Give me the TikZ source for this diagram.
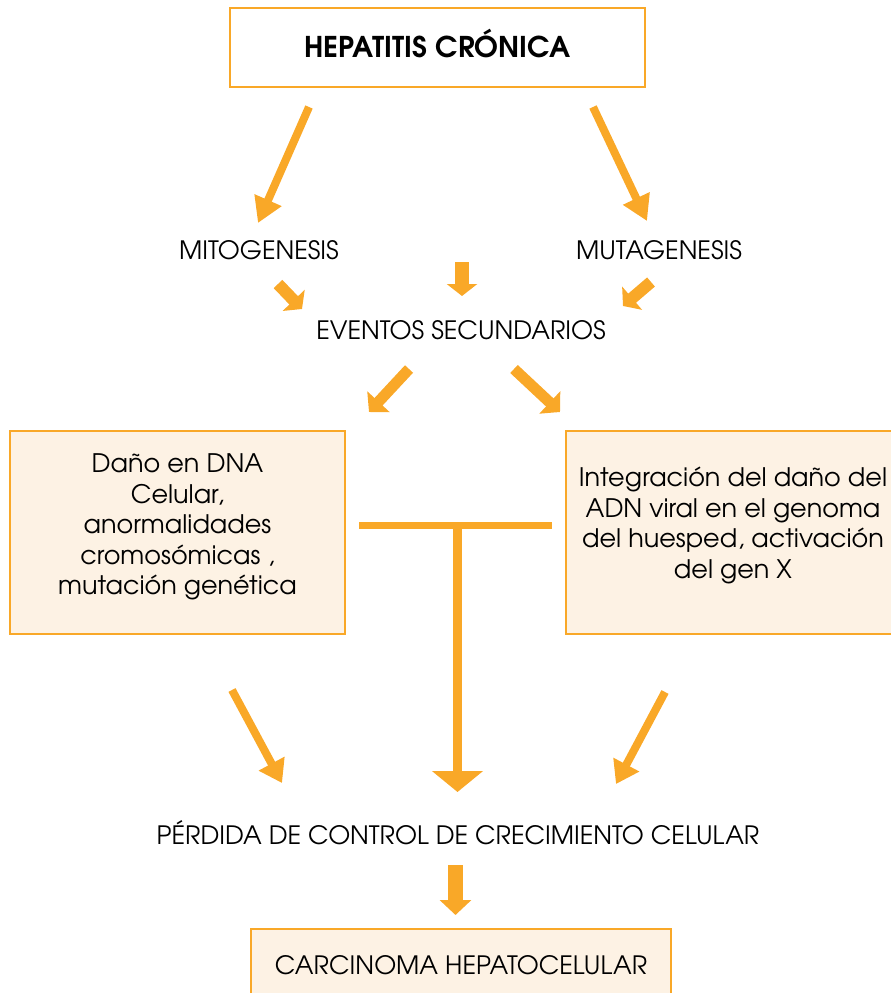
\documentclass[tikz,border=0pt]{standalone}
\usepackage{fontspec}
\setmainfont{texgyreadventor}[Extension=.otf,UprightFont=*-regular,BoldFont=*-bold]
\usetikzlibrary{arrows.meta}
\definecolor{orng}{RGB}{249,168,40}
\definecolor{cream}{RGB}{253,242,228}
\begin{document}
\begin{tikzpicture}[x=1pt,y=-1pt,
  lbl/.style={font=\fontsize{25.3}{28}\selectfont, inner sep=0pt},
  btxt/.style={font=\fontsize{25.5}{30.6}\selectfont, inner sep=0pt, align=center},
  box/.style={draw=orng, line width=2pt, fill=cream, inner sep=0pt},
  fat/.style args={#1/#2/#3}{draw=orng, line width=#1, -{Triangle[length=#2,width=#3]}}
]
\useasboundingbox (0,0) rectangle (891,993);
\clip (0,0) rectangle (891,993);

% nodes
\node[draw=orng, line width=2.5pt, fill=white, minimum width=415, minimum height=79, inner sep=0pt,
      text height=20pt, text depth=0pt,
      font=\fontsize{28.6}{32}\selectfont\bfseries] (top) at (437.5,47.5) {HEPATITIS CRÓNICA};
\node[lbl] (mito) at (259,250) {MITOGENESIS};
\node[lbl] (muta) at (659,250) {MUTAGENESIS};
\node[lbl] (ev) at (461,330) {EVENTOS SECUNDARIOS};
\node[box, minimum width=335, minimum height=203] (lbox) at (177.5,532.5) {};
\node[btxt] (ltext) at (177.5,527) {Daño en DNA\\Celular,\\anormalidades\\cromosómicas ,\\mutación genética};
\node[box, minimum width=334, minimum height=203] (rbox) at (733,532.5) {};
\node[btxt] (rtext) at (733,525.5) {Integración del daño del\\ADN viral en el genoma\\del huesped, activación\\del gen X};
\node[lbl] (perd) at (458,833) {PÉRDIDA DE CONTROL DE CRECIMIENTO CELULAR};
\node[box, minimum width=420, minimum height=72, font=\fontsize{25.3}{28}\selectfont] (carc) at (461,965) {CARCINOMA HEPATOCELULAR};

% arrow end points
\coordinate (a1s) at (309,107);  \coordinate (a1e) at (258,223);
\coordinate (a2s) at (593,107);  \coordinate (a2e) at (647,221);
\coordinate (a3s) at (462,262);  \coordinate (a3e) at (462,296);
\coordinate (a4s) at (278,284);  \coordinate (a4e) at (302,309);
\coordinate (a5s) at (651,282);  \coordinate (a5e) at (623,306);
\coordinate (a6s) at (409,369);  \coordinate (a6e) at (369,412);
\coordinate (a7s) at (514,369);  \coordinate (a7e) at (560,412);
\coordinate (tl) at (359,525);   \coordinate (tr) at (552,525);
\coordinate (tm) at (457.5,525); \coordinate (a8e) at (457.5,792);
\coordinate (a9s) at (232,690);  \coordinate (a9e) at (282,783);
\coordinate (a10s) at (665,692); \coordinate (a10e) at (616,784);
\coordinate (a11s) at (455.5,865); \coordinate (a11e) at (455.5,915);

% arrows
\draw[fat=8pt/25pt/28pt] (a1s) -- (a1e);
\draw[fat=8pt/25pt/28pt] (a2s) -- (a2e);
\draw[fat=14pt/12pt/30pt] (a3s) -- (a3e);
\draw[fat=12pt/12pt/30pt] (a4s) -- (a4e);
\draw[fat=12pt/12pt/30pt] (a5s) -- (a5e);
\draw[fat=11pt/14pt/30pt] (a6s) -- (a6e);
\draw[fat=11pt/14pt/30pt] (a7s) -- (a7e);
\draw[draw=orng, line width=7pt] (tl) -- (tr);
\draw[fat=9pt/21pt/50pt] (tm) -- (a8e);
\draw[fat=8pt/22pt/28pt] (a9s) -- (a9e);
\draw[fat=8pt/22pt/28pt] (a10s) -- (a10e);
\draw[fat=15pt/15pt/31pt] (a11s) -- (a11e);
\end{tikzpicture}
\end{document}
